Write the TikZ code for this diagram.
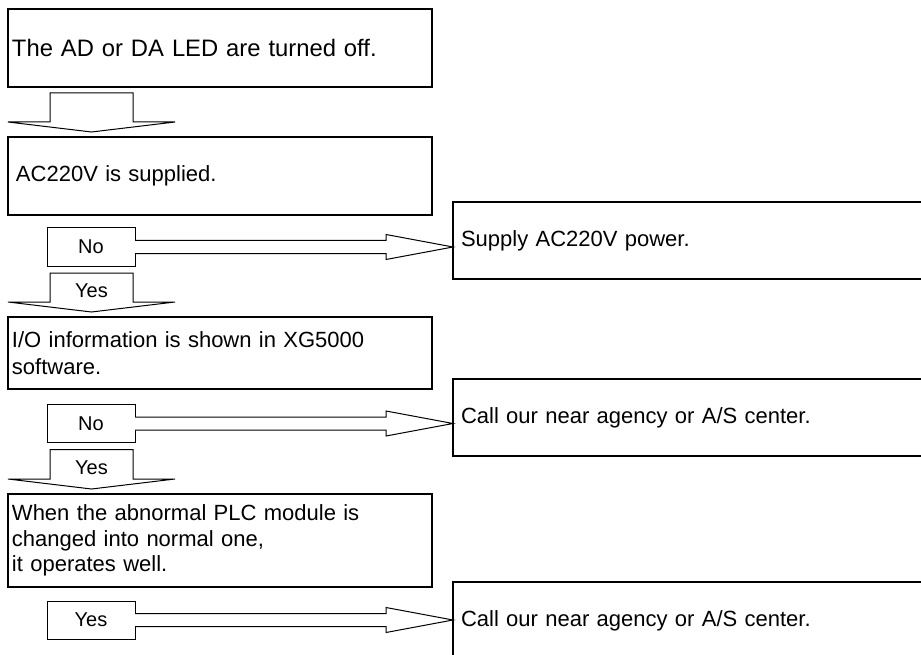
\documentclass[tikz,border=0pt]{standalone}
\usepackage{fontspec}
\setmainfont{Liberation Sans}
\usetikzlibrary{calc}
\begin{document}
\begin{tikzpicture}[x=1pt,y=-1pt,
  boxstyle/.style={draw, line width=2pt, outer sep=0pt, inner xsep=4pt, inner ysep=0pt, anchor=north west, align=left, text width=416pt, font=\fontsize{22}{25.5}\selectfont},
  rightbox/.style={draw, line width=2pt, outer sep=0pt, inner xsep=8pt, inner ysep=0pt, anchor=north west, align=left, text width=584pt, minimum height=77pt, font=\fontsize{22}{25}\selectfont},
  lblbox/.style={draw, line width=1pt, outer sep=0pt, minimum width=88pt, minimum height=38pt, inner sep=0pt, font=\fontsize{20}{24}\selectfont},
  lbltext/.style={inner sep=0pt, font=\fontsize{20}{24}\selectfont},
  blockarrow/.style={draw, line width=1pt, fill=white, line join=miter}]
\useasboundingbox (0,0) rectangle (921,655);
\fill[white] (0,0) rectangle (921,655);
\clip (0,0) rectangle (921,655);

% main boxes
\node[boxstyle, minimum height=78pt, font=\fontsize{23.8}{27}\selectfont] (b1) at (8,9) {The AD or DA LED are turned off.};
\node[boxstyle, minimum height=78pt, inner xsep=8pt, text width=408pt] (b2) at (8,137) {AC220V is supplied.};
\node[boxstyle, minimum height=72pt, font=\fontsize{22}{27}\selectfont] (b3) at (8,317) {I/O information is shown in XG5000\\software.};
\node[boxstyle, minimum height=93pt] (b4) at (8,494) {When the abnormal PLC module is\\changed into normal one,\\it operates well.};

% right boxes
\node[rightbox] (r1) at (453,202) {Supply AC220V power.};
\node[rightbox] (r2) at (453,379) {Call our near agency or A/S center.};
\node[rightbox] (r3) at (453,582) {Call our near agency or A/S center.};

% label boxes
\node[lblbox] (n1) at (91,247) {No};
\node[lblbox] (n2) at (91,423.5) {No};
\node[lblbox] (n3) at (91,620) {Yes};

% down block arrow b1 -> b2
\draw[blockarrow] ($(b1.south west)+(42,6)$) -- ($(b2.north west)+(42,-15)$) -- ($(b2.north west)+(0,-15)$) -- ($(b2.north west)+(83.5,-5)$) -- ($(b2.north west)+(167,-15)$) -- ($(b2.north west)+(125,-15)$) -- ($(b1.south west)+(125,6)$) -- cycle;

% down block arrow n1 -> b3 (Yes)
\draw[blockarrow] ($(n1.south west)+(3,7)$) -- ($(b3.north west)+(42,-15)$) -- ($(b3.north west)+(0,-15)$) -- ($(b3.north west)+(83.5,-5)$) -- ($(b3.north west)+(167,-15)$) -- ($(b3.north west)+(125,-15)$) -- ($(n1.south west)+(86,7)$) -- cycle;
\node[lbltext] (y1) at (91.5,291) {Yes};

% down block arrow n2 -> b4 (Yes)
\draw[blockarrow] ($(n2.south west)+(3,7)$) -- ($(b4.north west)+(42,-15)$) -- ($(b4.north west)+(0,-15)$) -- ($(b4.north west)+(83.5,-5)$) -- ($(b4.north west)+(167,-15)$) -- ($(b4.north west)+(125,-15)$) -- ($(n2.south west)+(86,7)$) -- cycle;
\node[lbltext] (y2) at (91.5,468) {Yes};

% right block arrows
\coordinate (t1) at (r1.west |- n1.east);
\coordinate (t2) at (r2.west |- n2.east);
\coordinate (t3) at (r3.west |- n3.east);
\draw[blockarrow] ($(n1.east)+(0,-6.5)$) -- ($(t1)+(-67,-6.5)$) -- ($(t1)+(-67,-12.5)$) -- (t1) -- ($(t1)+(-67,12.5)$) -- ($(t1)+(-67,6.5)$) -- ($(n1.east)+(0,6.5)$);
\draw[blockarrow] ($(n2.east)+(0,-6.5)$) -- ($(t2)+(-67,-6.5)$) -- ($(t2)+(-67,-12.5)$) -- (t2) -- ($(t2)+(-67,12.5)$) -- ($(t2)+(-67,6.5)$) -- ($(n2.east)+(0,6.5)$);
\draw[blockarrow] ($(n3.east)+(0,-6.5)$) -- ($(t3)+(-67,-6.5)$) -- ($(t3)+(-67,-12.5)$) -- (t3) -- ($(t3)+(-67,12.5)$) -- ($(t3)+(-67,6.5)$) -- ($(n3.east)+(0,6.5)$);
\end{tikzpicture}
\end{document}
